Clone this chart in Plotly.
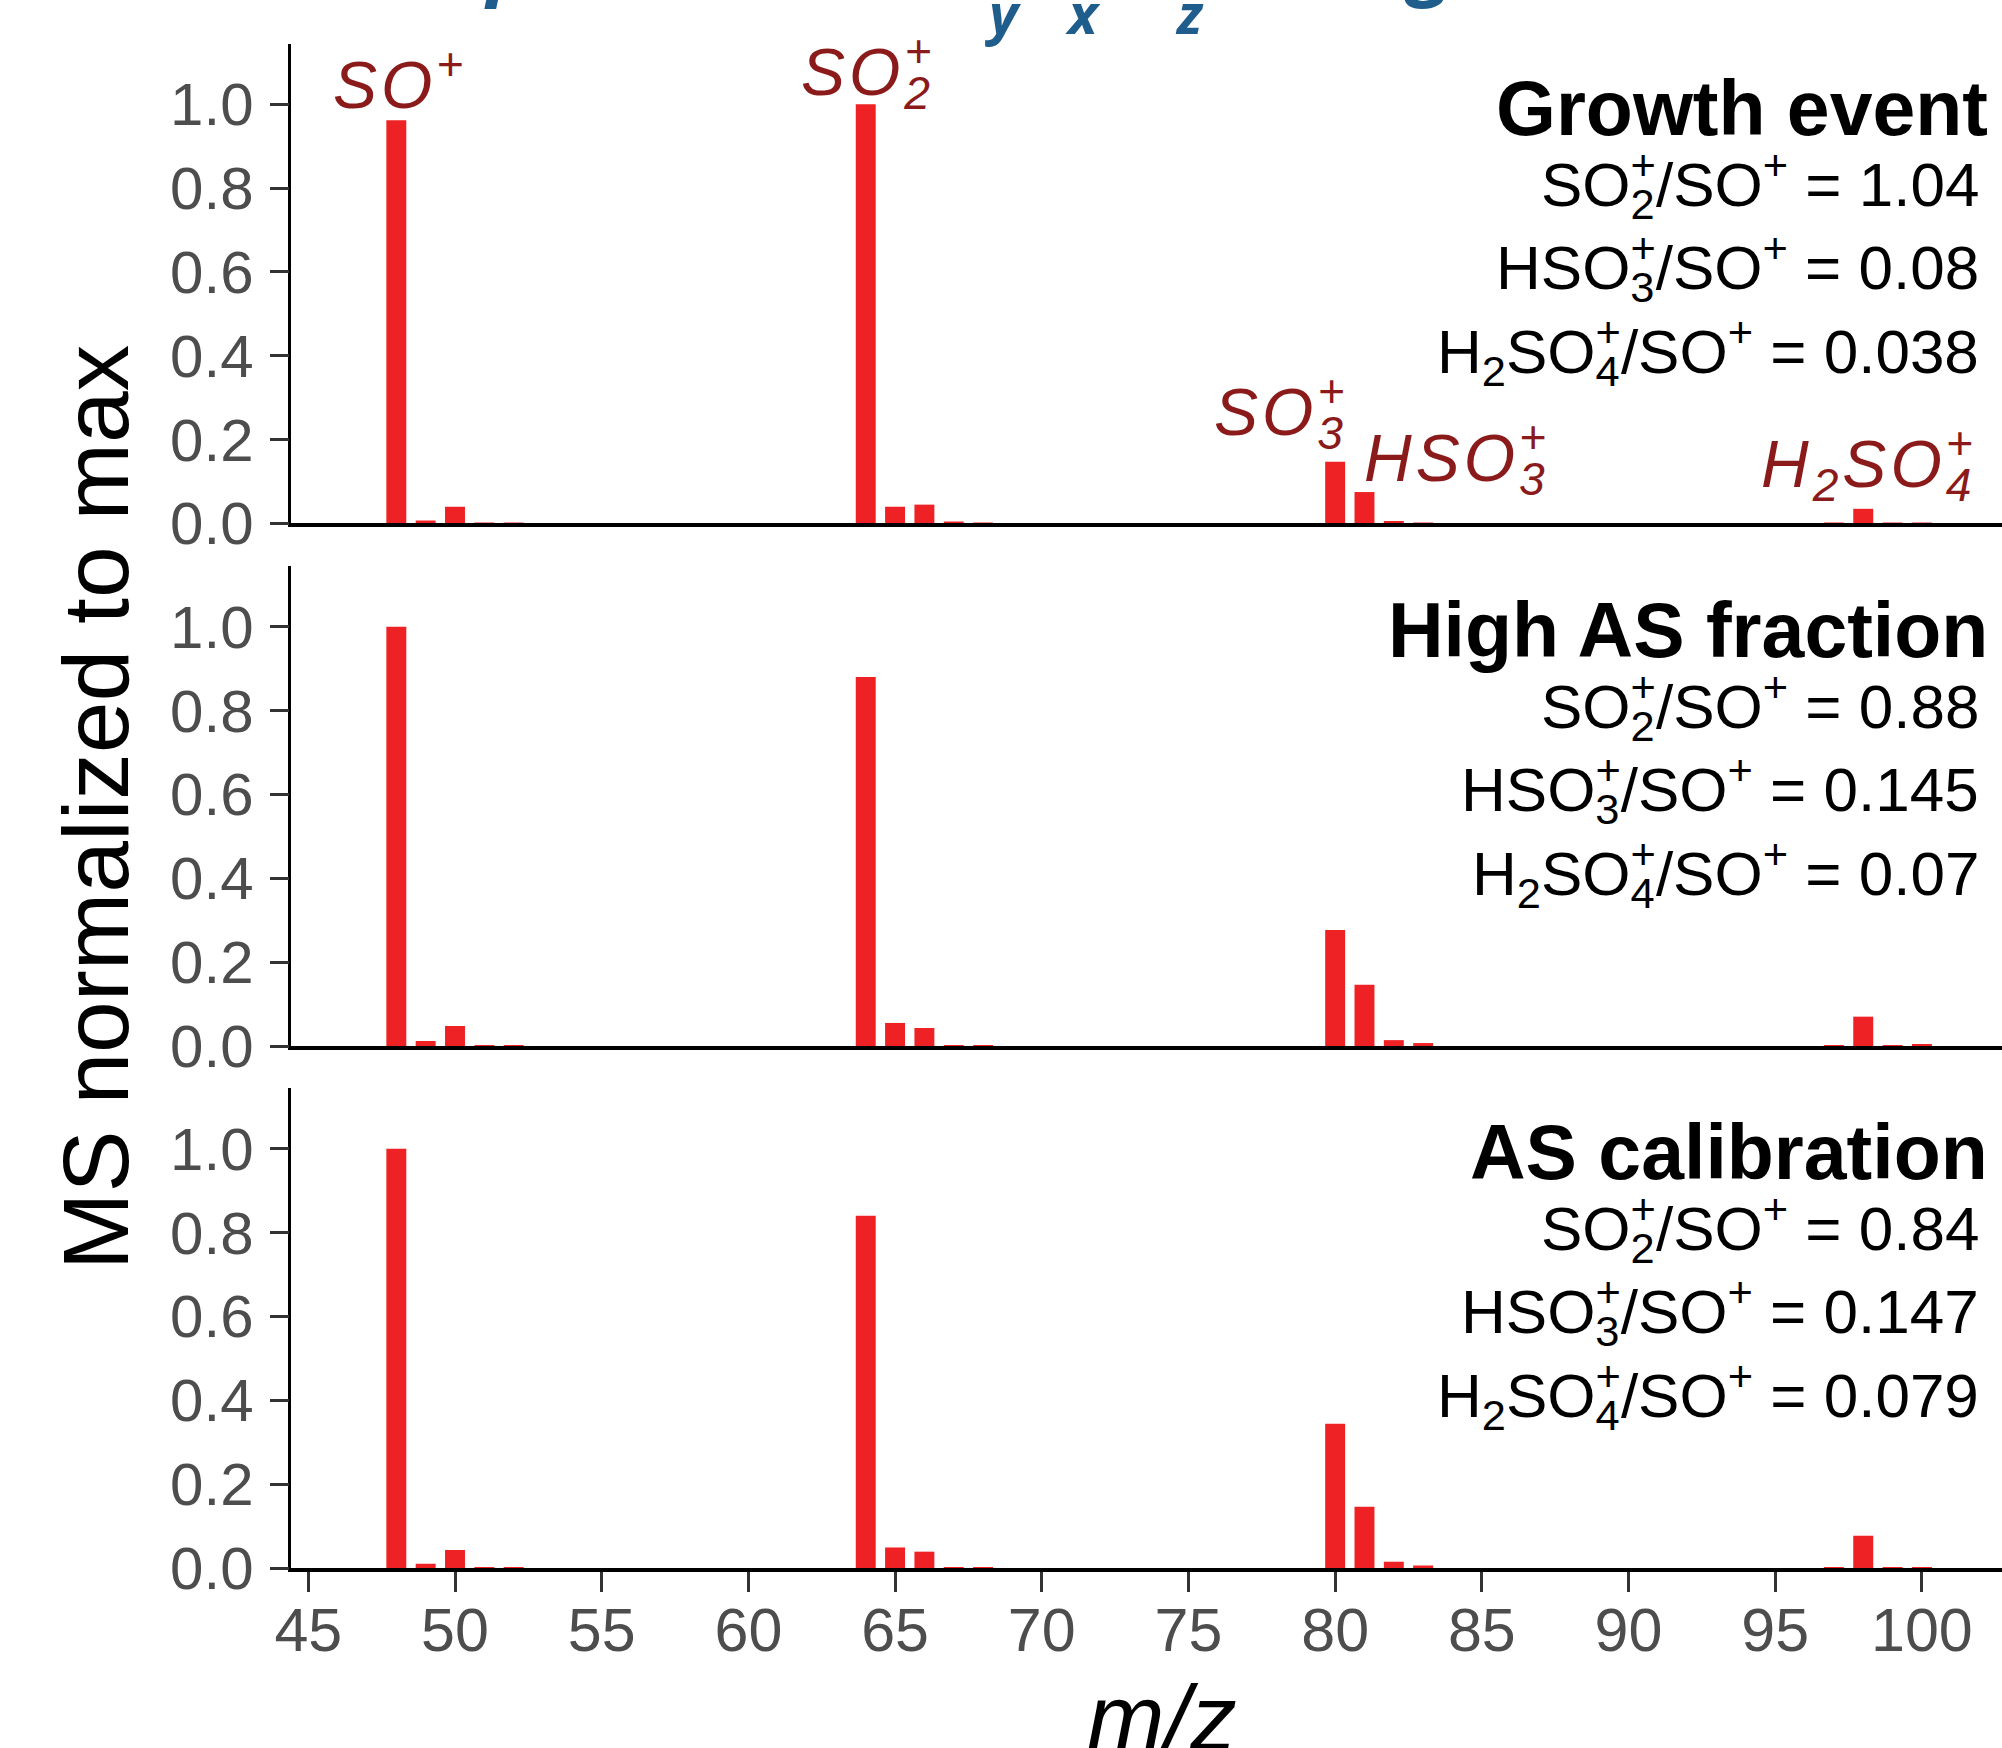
import plotly.graph_objects as go

# ---------------- data ----------------
mz = [48, 49, 50, 51, 52, 64, 65, 66, 67, 68, 80, 81, 82, 83, 97, 98, 99, 100]
growth_event = [0.962, 0.007, 0.040, 0.002, 0.001, 1.000, 0.040, 0.045, 0.003, 0.002,
                0.147, 0.075, 0.006, 0.002, 0.001, 0.035, 0.001, 0.002]
high_as_fraction = [1.000, 0.012, 0.048, 0.002, 0.001, 0.880, 0.055, 0.043, 0.002, 0.002,
                    0.277, 0.146, 0.014, 0.007, 0.002, 0.070, 0.002, 0.003]
as_calibration = [1.000, 0.010, 0.043, 0.001, 0.001, 0.840, 0.049, 0.039, 0.001, 0.001,
                  0.344, 0.146, 0.015, 0.006, 0.001, 0.077, 0.001, 0.001]

panel_titles = ["Growth event", "High AS fraction", "AS calibration"]
so2_ratio = ["1.04", "0.88", "0.84"]
hso3_ratio = ["0.08", "0.145", "0.147"]
h2so4_ratio = ["0.038", "0.07", "0.079"]

x_ticks = [45, 50, 55, 60, 65, 70, 75, 80, 85, 90, 95, 100]
y_ticks = [0.0, 0.2, 0.4, 0.6, 0.8, 1.0]
y_tick_text = ["0.0", "0.2", "0.4", "0.6", "0.8", "1.0"]

# ion labels in the top panel: m/z centre and baseline height (data units)
ion_label_mz = [48.12, 64.08, 78.16, 84.15, 98.18]
ion_label_base = [0.994, 1.025, 0.214, 0.104, 0.0895]

# ---------------- style ----------------
W, H = 2002, 1748
BAR = "#EE2224"
ION = "#8B1A1A"
TICKTXT = "#4D4D4D"
FONT = "Liberation Sans, Arial, Helvetica, sans-serif"
YMAX = 1.145
XR = [44.42, 102.73]
domains = [[0.70052, 0.97511], [0.40160, 0.67620], [0.10297, 0.37757]]
DH = domains[0][1] - domains[0][0]
PXU = DH * H / YMAX  # pixels per data unit


def st(sub, sup="+"):
    # stacked subscript / superscript
    return ('<sub><span style="letter-spacing:-0.556em">%s</span></sub><sup>%s</sup>'
            % (sub, sup))


ion_labels = ["SO<sup>+</sup>", "SO" + st("2"), "SO" + st("3"),
              "HSO" + st("3"), "H<sub>2</sub>SO" + st("4")]

fig = go.Figure()
series = [growth_event, high_as_fraction, as_calibration]
for i, vals in enumerate(series):
    sfx = "" if i == 0 else str(i + 1)
    fig.add_trace(go.Bar(x=mz, y=vals, width=0.68, marker_color=BAR,
                         marker_line_width=0, xaxis="x" + sfx, yaxis="y" + sfx,
                         showlegend=False))

layout = dict(width=W, height=H,
              margin=dict(l=0, r=0, t=0, b=0, pad=0, autoexpand=False),
              paper_bgcolor="white", plot_bgcolor="white", showlegend=False,
              font=dict(family=FONT))
for i in range(3):
    sfx = "" if i == 0 else str(i + 1)
    last = (i == 2)
    layout["xaxis" + sfx] = dict(
        domain=[0.1455, 1.0], range=XR, anchor="y" + sfx, automargin=False,
        showline=True, linecolor="black", linewidth=3.5, showgrid=False,
        zeroline=False, ticks="outside" if last else "", ticklen=20,
        tickwidth=2.5, tickcolor="#333333", tickvals=x_ticks,
        showticklabels=last, ticklabelstandoff=-14,
        tickfont=dict(size=61, color=TICKTXT, family=FONT))
    layout["yaxis" + sfx] = dict(
        domain=domains[i], range=[0, YMAX], anchor="x" + sfx, automargin=False,
        showline=True, linecolor="black", linewidth=2.5, showgrid=False,
        zeroline=False, ticks="outside", ticklen=19, tickwidth=2.5,
        tickcolor="#333333", tickvals=y_ticks, ticktext=y_tick_text,
        ticklabelstandoff=4, tickfont=dict(size=60, color=TICKTXT, family=FONT))
fig.update_layout(**layout)


def to_paper(panel, yval):
    return domains[panel][0] + yval / YMAX * DH


ann = []
# right-hand panel texts
TITLE_SIZE = 77
LINE_SIZE = 62
title_base = 0.930
line_bases = [0.760, 0.562, 0.361]
for i in range(3):
    sfx = "" if i == 0 else str(i + 1)
    ann.append(dict(x=102.32, y=title_base + (0.905 * TITLE_SIZE + 1) / PXU,
                    xref="x" + sfx, yref="y" + sfx, xanchor="right", yanchor="top",
                    text="<b>%s</b>" % panel_titles[i], showarrow=False,
                    font=dict(size=TITLE_SIZE, color="black", family=FONT)))
    lines = ["SO" + st("2") + "/SO<sup>+</sup> = " + so2_ratio[i],
             "HSO" + st("3") + "/SO<sup>+</sup> = " + hso3_ratio[i],
             "H<sub>2</sub>SO" + st("4") + "/SO<sup>+</sup> = " + h2so4_ratio[i]]
    for t, b in zip(lines, line_bases):
        ann.append(dict(x=102.03, y=b + (1.0535 * LINE_SIZE + 1) / PXU,
                        xref="x" + sfx, yref="y" + sfx, xanchor="right",
                        yanchor="top", text=t, showarrow=False,
                        font=dict(size=LINE_SIZE, color="black", family=FONT)))

# ion labels (top panel) - paper y so labels above the axis range stay visible
ION_SIZE = 66
for t, xm, yb in zip(ion_labels, ion_label_mz, ion_label_base):
    ann.append(dict(x=xm, y=to_paper(0, yb + (1.0535 * ION_SIZE + 1) / PXU),
                    xref="x", yref="paper", xanchor="center", yanchor="top",
                    text='<i><span style="letter-spacing:4px">%s</span></i>' % t,
                    showarrow=False, font=dict(size=ION_SIZE, color=ION, family=FONT)))

# axis titles
ann.append(dict(x=0.0479, y=0.5383, xref="paper", yref="paper", xanchor="center",
                yanchor="middle", textangle=-90, text="MS normalized to max",
                showarrow=False, font=dict(size=93, color="black", family=FONT)))
ann.append(dict(x=0.5804, y=0.04805, xref="paper", yref="paper", xanchor="center",
                yanchor="top", text="<i>m/z</i>", showarrow=False,
                font=dict(size=93, color="black", family=FONT)))

# clipped blue heading fragments at the very top
BLUE = "#1F5E8C"
for t, xp, yp, sz in [("y", 0.5010, 1.016, 56), ("x", 0.5410, 1.016, 56),
                      ("z", 0.5944, 1.016, 56), ("p", 0.2547, 1.056, 80),
                      ("g", 0.7143, 1.056, 80)]:
    ann.append(dict(x=xp, y=yp, xref="paper", yref="paper", xanchor="center",
                    yanchor="top", text="<b><i>%s</i></b>" % t, showarrow=False,
                    font=dict(size=sz, color=BLUE, family="Open Sans")))

fig.update_layout(annotations=ann)
fig.write_html("out.html")
